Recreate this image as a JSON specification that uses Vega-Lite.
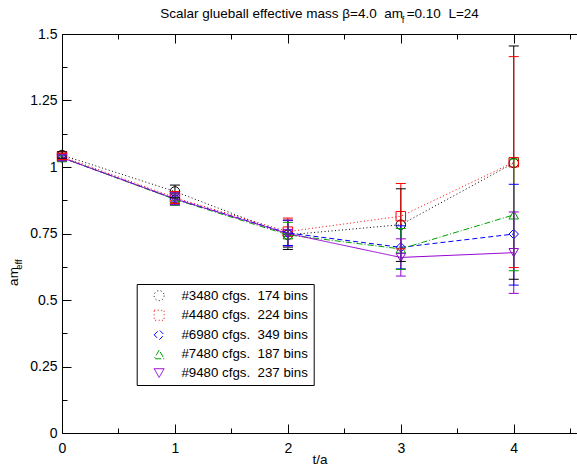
{
  "$schema": "https://vega.github.io/schema/vega-lite/v6.json",
  "width": 515,
  "height": 399,
  "autosize": "none",
  "padding": {"left": 62, "top": 34, "right": 0, "bottom": 35},
  "background": "white",
  "title": {
    "text": "Scalar glueball effective mass β=4.0\u00a0 am =0.10\u00a0 L=24",
    "font": "Liberation Sans",
    "fontSize": 13.5,
    "fontWeight": "normal",
    "color": "black",
    "anchor": "middle",
    "baseline": "alphabetic",
    "offset": 15,
    "dy": 32
  },
  "config": {
    "view": {"stroke": null},
    "font": "Liberation Sans",
    "axis": {
      "domainColor": "black",
      "tickColor": "black",
      "labelColor": "black",
      "titleColor": "black",
      "grid": false,
      "labelFont": "Liberation Sans",
      "titleFont": "Liberation Sans",
      "titleFontWeight": "normal",
      "domainWidth": 1,
      "tickWidth": 1
    },
    "legend": {
      "orient": "none",
      "legendX": 74.7,
      "legendY": 250,
      "labelFont": "Liberation Sans",
      "labelFontSize": 13.3,
      "labelColor": "black",
      "labelLimit": 300,
      "strokeColor": "black",
      "fillColor": "white",
      "padding": 5,
      "symbolSize": 100,
      "symbolStrokeWidth": 1,
      "symbolOffset": 10.8,
      "labelOffset": 15.6,
      "rowPadding": 4.6
    }
  },
  "data": {
    "values": [
      {"s": "#3480 cfgs.\u00a0 174 bins", "t": 0, "y": 1.045, "lo": 1.033, "hi": 1.057},
      {"s": "#3480 cfgs.\u00a0 174 bins", "t": 1, "y": 0.908, "lo": 0.884, "hi": 0.932},
      {"s": "#3480 cfgs.\u00a0 174 bins", "t": 2, "y": 0.745, "lo": 0.690, "hi": 0.800},
      {"s": "#3480 cfgs.\u00a0 174 bins", "t": 3, "y": 0.783, "lo": 0.645, "hi": 0.918},
      {"s": "#3480 cfgs.\u00a0 174 bins", "t": 4, "y": 1.015, "lo": 0.578, "hi": 1.455},
      {"s": "#4480 cfgs.\u00a0 224 bins", "t": 0, "y": 1.040, "lo": 1.028, "hi": 1.052},
      {"s": "#4480 cfgs.\u00a0 224 bins", "t": 1, "y": 0.885, "lo": 0.862, "hi": 0.908},
      {"s": "#4480 cfgs.\u00a0 224 bins", "t": 2, "y": 0.757, "lo": 0.705, "hi": 0.808},
      {"s": "#4480 cfgs.\u00a0 224 bins", "t": 3, "y": 0.815, "lo": 0.692, "hi": 0.938},
      {"s": "#4480 cfgs.\u00a0 224 bins", "t": 4, "y": 1.018, "lo": 0.622, "hi": 1.415},
      {"s": "#6980 cfgs.\u00a0 349 bins", "t": 0, "y": 1.035, "lo": 1.024, "hi": 1.046},
      {"s": "#6980 cfgs.\u00a0 349 bins", "t": 1, "y": 0.880, "lo": 0.858, "hi": 0.902},
      {"s": "#6980 cfgs.\u00a0 349 bins", "t": 2, "y": 0.752, "lo": 0.705, "hi": 0.799},
      {"s": "#6980 cfgs.\u00a0 349 bins", "t": 3, "y": 0.698, "lo": 0.617, "hi": 0.779},
      {"s": "#6980 cfgs.\u00a0 349 bins", "t": 4, "y": 0.748, "lo": 0.556, "hi": 0.935},
      {"s": "#7480 cfgs.\u00a0 187 bins", "t": 0, "y": 1.035, "lo": 1.024, "hi": 1.046},
      {"s": "#7480 cfgs.\u00a0 187 bins", "t": 1, "y": 0.878, "lo": 0.856, "hi": 0.900},
      {"s": "#7480 cfgs.\u00a0 187 bins", "t": 2, "y": 0.745, "lo": 0.698, "hi": 0.792},
      {"s": "#7480 cfgs.\u00a0 187 bins", "t": 3, "y": 0.692, "lo": 0.615, "hi": 0.769},
      {"s": "#7480 cfgs.\u00a0 187 bins", "t": 4, "y": 0.820, "lo": 0.610, "hi": 1.030},
      {"s": "#9480 cfgs.\u00a0 237 bins", "t": 0, "y": 1.035, "lo": 1.024, "hi": 1.046},
      {"s": "#9480 cfgs.\u00a0 237 bins", "t": 1, "y": 0.880, "lo": 0.858, "hi": 0.902},
      {"s": "#9480 cfgs.\u00a0 237 bins", "t": 2, "y": 0.750, "lo": 0.700, "hi": 0.800},
      {"s": "#9480 cfgs.\u00a0 237 bins", "t": 3, "y": 0.660, "lo": 0.590, "hi": 0.730},
      {"s": "#9480 cfgs.\u00a0 237 bins", "t": 4, "y": 0.678, "lo": 0.525, "hi": 0.831}
    ]
  },
  "layer": [
    {
      "mark": {"type": "point", "filled": false, "size": 90, "strokeWidth": 1, "opacity": 1},
      "encoding": {
        "x": {
          "field": "t", "type": "quantitative",
          "scale": {"domain": [0, 4.56], "nice": false, "zero": false},
          "axis": {
            "orient": "top",
            "values": [0, 0.5, 1, 1.5, 2, 2.5, 3, 3.5, 4, 4.5],
            "labels": false,
            "tickSize": {"condition": {"test": "datum.value % 1 === 0", "value": -9}, "value": -5},
            "title": "f",
            "titleFontSize": 9.5,
            "titleAngle": 0,
            "titleAlign": "center",
            "titleBaseline": "alphabetic",
            "titleX": 340.5,
            "titleY": -11.5
          }
        },
        "y": {
          "field": "y", "type": "quantitative",
          "scale": {"domain": [0, 1.5], "nice": false, "zero": false},
          "axis": {
            "orient": "left",
            "labels": false,
            "ticks": false,
            "domain": false,
            "title": "eff",
            "titleFontSize": 9.5,
            "titleAngle": -90,
            "titleAlign": "center",
            "titleBaseline": "alphabetic",
            "titleX": -41,
            "titleY": 230
          }
        },
        "color": {
          "field": "s", "type": "nominal",
          "scale": {
            "domain": ["#3480 cfgs.\u00a0 174 bins", "#4480 cfgs.\u00a0 224 bins", "#6980 cfgs.\u00a0 349 bins", "#7480 cfgs.\u00a0 187 bins", "#9480 cfgs.\u00a0 237 bins"],
            "range": ["#000000", "#ff0000", "#0000ff", "#00a000", "#9400d3"]
          },
          "legend": {"title": null}
        },
        "shape": {
          "field": "s", "type": "nominal",
          "scale": {
            "domain": ["#3480 cfgs.\u00a0 174 bins", "#4480 cfgs.\u00a0 224 bins", "#6980 cfgs.\u00a0 349 bins", "#7480 cfgs.\u00a0 187 bins", "#9480 cfgs.\u00a0 237 bins"],
            "range": ["circle", "square", "diamond", "triangle-up", "triangle-down"]
          },
          "legend": {"title": null}
        }
      }
    },
    {
      "mark": {"type": "line", "strokeWidth": 1},
      "encoding": {
        "x": {
          "field": "t", "type": "quantitative",
          "axis": {
            "orient": "bottom",
            "values": [0, 0.5, 1, 1.5, 2, 2.5, 3, 3.5, 4, 4.5],
            "format": "~g",
            "labelExpr": "datum.value % 1 === 0 ? datum.label : ''",
            "tickSize": {"condition": {"test": "datum.value % 1 === 0", "value": -9}, "value": -5},
            "labelFontSize": 14,
            "labelPadding": 17,
            "labelFlush": false,
            "labelOverlap": false,
            "title": "t/a",
            "titleFontSize": 13.5,
            "titleBaseline": "alphabetic",
            "titleY": 30
          }
        },
        "y": {
          "field": "y", "type": "quantitative",
          "axis": {
            "orient": "left",
            "values": [0, 0.125, 0.25, 0.375, 0.5, 0.625, 0.75, 0.875, 1, 1.125, 1.25, 1.375, 1.5],
            "format": ".2~f",
            "labelExpr": "(datum.value * 4) % 1 === 0 ? datum.label : ''",
            "tickSize": {"condition": {"test": "(datum.value * 4) % 1 === 0", "value": -9}, "value": -5},
            "labelFontSize": 14,
            "labelPadding": 14,
            "labelFlush": false,
            "labelOverlap": false,
            "title": "am",
            "titleFontSize": 13.5,
            "titleAngle": -90,
            "titleAlign": "center",
            "titleBaseline": "alphabetic",
            "titleX": -45,
            "titleY": 242
          }
        },
        "color": {"field": "s", "type": "nominal", "legend": {"title": null}},
        "strokeDash": {
          "field": "s", "type": "nominal", "legend": {"title": null},
          "scale": {
            "domain": ["#3480 cfgs.\u00a0 174 bins", "#4480 cfgs.\u00a0 224 bins", "#6980 cfgs.\u00a0 349 bins", "#7480 cfgs.\u00a0 187 bins", "#9480 cfgs.\u00a0 237 bins"],
            "range": [[1, 2.5], [1, 2.5], [5, 3], [6, 2, 1, 2], [1, 0]]
          }
        },
        "order": {"field": "t", "type": "quantitative"}
      }
    },
    {
      "mark": {"type": "rule", "strokeWidth": 1},
      "encoding": {
        "x": {"field": "t", "type": "quantitative", "axis": null},
        "y": {"field": "lo", "type": "quantitative", "axis": null},
        "y2": {"field": "hi"},
        "color": {"field": "s", "type": "nominal", "legend": {"title": null}}
      }
    },
    {
      "mark": {"type": "point", "shape": "stroke", "size": 100, "strokeWidth": 1, "filled": false, "opacity": 1},
      "encoding": {
        "x": {"field": "t", "type": "quantitative", "axis": null},
        "y": {"field": "lo", "type": "quantitative", "axis": null},
        "color": {"field": "s", "type": "nominal", "legend": {"title": null}}
      }
    },
    {
      "mark": {"type": "point", "shape": "stroke", "size": 100, "strokeWidth": 1, "filled": false, "opacity": 1},
      "encoding": {
        "x": {"field": "t", "type": "quantitative", "axis": null},
        "y": {"field": "hi", "type": "quantitative", "axis": null},
        "color": {"field": "s", "type": "nominal", "legend": {"title": null}}
      }
    }
  ],
  "resolve": {"axis": {"x": "independent", "y": "independent"}}
}
